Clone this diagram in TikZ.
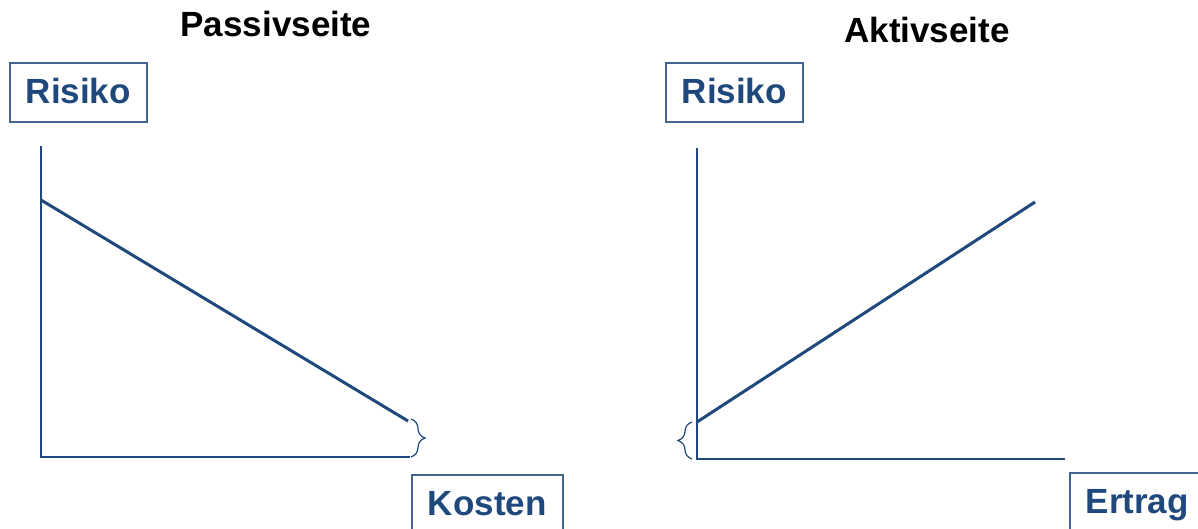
\documentclass[tikz,border=0pt]{standalone}
\usepackage{fontspec}
\setmainfont{Liberation Sans}
\usetikzlibrary{decorations.pathreplacing}
\definecolor{darkblue}{RGB}{31,73,125}

\begin{document}
\begin{tikzpicture}[
  x=1pt, y=-1pt,
  font=\fontsize{35}{40}\selectfont\bfseries,
  axis/.style={draw=darkblue, line width=1.6pt},
  curve/.style={draw=darkblue, line width=3pt},
  brc/.style={draw=darkblue, line width=1.2pt, decorate, decoration={brace, amplitude=14pt}},
  label/.style={draw=darkblue!85, line width=1.5pt, text=darkblue, text height=25pt, inner ysep=16pt},
  title/.style={anchor=base, text=black}
]
\useasboundingbox (0,0) rectangle (1198,528);
\clip (0,0) rectangle (1198,528);

% Passivseite
\node[title] (ptitle) at (276,36) {Passivseite};
\node[label, anchor=north west, minimum width=137pt, text depth=2pt] (prisk) at (9,62) {Risiko};
\node[label, anchor=north west, minimum width=151pt, text depth=40pt] (pcost) at (411,474) {Kosten};

\coordinate (po) at (41,457);
\coordinate (ptop) at (41,146);
\coordinate (pend) at (410,457);
\coordinate (pa) at (41,200);
\coordinate (pb) at (408,421);
\coordinate (pbt) at (411,419);
\coordinate (pbb) at (411,457);

\draw[axis] (ptop) -- (po) -- (pend);
\draw[curve] (pa) -- (pb);
\draw[brc] (pbt) -- (pbb);

% Aktivseite
\node[title] (atitle) at (927,42) {Aktivseite};
\node[label, anchor=north west, minimum width=137pt, text depth=2pt] (arisk) at (665,62) {Risiko};
\node[label, anchor=north west, inner xsep=16pt, text depth=40pt] (aret) at (1069,472) {Ertrag};

\coordinate (ao) at (697,459);
\coordinate (atop) at (697,148);
\coordinate (aend) at (1065,459);
\coordinate (aa) at (697,422);
\coordinate (ab) at (1035,202);
\coordinate (abb) at (692,459);
\coordinate (abt) at (692,422);

\draw[axis] (atop) -- (ao) -- (aend);
\draw[curve] (aa) -- (ab);
\draw[brc] (abb) -- (abt);

\end{tikzpicture}
\end{document}
